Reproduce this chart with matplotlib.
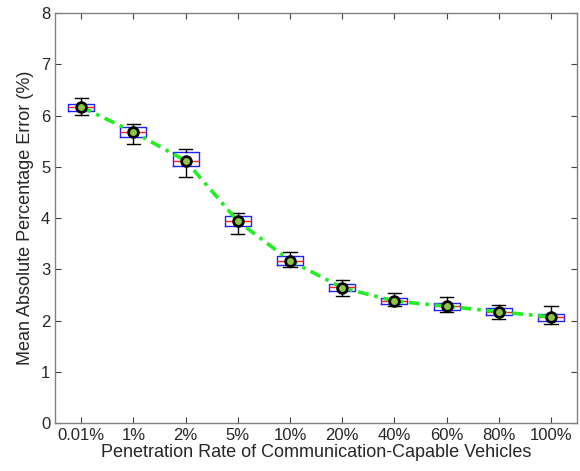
import matplotlib
matplotlib.use('Agg')
import matplotlib.pyplot as plt
import numpy as np

# Data
categories = ['0.01%', '1%', '2%', '5%', '10%', '20%', '40%', '60%', '80%', '100%']
mean_vals = [6.17, 5.68, 5.12, 3.94, 3.17, 2.64, 2.38, 2.28, 2.17, 2.07]
medians = [6.17, 5.69, 5.12, 3.95, 3.17, 2.65, 2.38, 2.28, 2.17, 2.06]
q1 = [6.09, 5.58, 5.02, 3.85, 3.08, 2.58, 2.32, 2.21, 2.11, 2.00]
q3 = [6.23, 5.78, 5.29, 4.04, 3.25, 2.72, 2.44, 2.35, 2.24, 2.12]
whisker_low = [6.02, 5.45, 4.81, 3.68, 3.05, 2.48, 2.28, 2.17, 2.02, 1.94]
whisker_high = [6.35, 5.83, 5.35, 4.09, 3.33, 2.79, 2.53, 2.45, 2.31, 2.28]

plt.rcParams['font.family'] = ['Liberation Sans', 'DejaVu Sans']
text_color = '#262626'

fig = plt.figure(figsize=(5.8, 4.71), dpi=100)
ax = fig.add_axes([0.095, 0.102, 0.9, 0.87])

stats = []
for i in range(len(categories)):
    stats.append({
        'med': medians[i], 'q1': q1[i], 'q3': q3[i],
        'whislo': whisker_low[i], 'whishi': whisker_high[i],
        'mean': mean_vals[i], 'fliers': [],
    })

x = np.arange(1, len(categories) + 1)
ax.bxp(stats, positions=x, widths=0.5, showfliers=False, showmeans=False,
       boxprops=dict(color='#2020ff', linewidth=1.0),
       medianprops=dict(color='#ff2020', linewidth=1.0),
       whiskerprops=dict(color='black', linewidth=1.0),
       capprops=dict(color='black', linewidth=1.0), capwidths=0.25)

# mean curve (MATLAB-like dash-dot)
ax.plot(x, mean_vals, linestyle=(0, (3, 1.6, 1, 1.6)), color='#22ee22',
        linewidth=2.6, zorder=4)
ax.plot(x, mean_vals, linestyle='none', marker='o', markersize=7,
        markeredgecolor='black', markeredgewidth=2.0,
        markerfacecolor='#8cc63f', zorder=5)

ax.set_xlim(0.5, len(categories) + 0.5)
ax.set_ylim(0, 8)
ax.set_xticks(x)
ax.set_xticklabels(categories)
ax.set_yticks(range(0, 9))

ax.set_xlabel('Penetration Rate of Communication-Capable Vehicles', fontsize=13,
              color=text_color, labelpad=1)
ax.set_ylabel('Mean Absolute Percentage Error (%)', fontsize=13,
              color=text_color, labelpad=5)

ax.tick_params(direction='in', length=4, width=0.8, color='#404040',
               labelsize=12, labelcolor=text_color, top=True, right=True)
for spine in ax.spines.values():
    spine.set_color('#808080')
    spine.set_linewidth(1.0)

plt.savefig('out.png', dpi=100, facecolor='white')
plt.close()
